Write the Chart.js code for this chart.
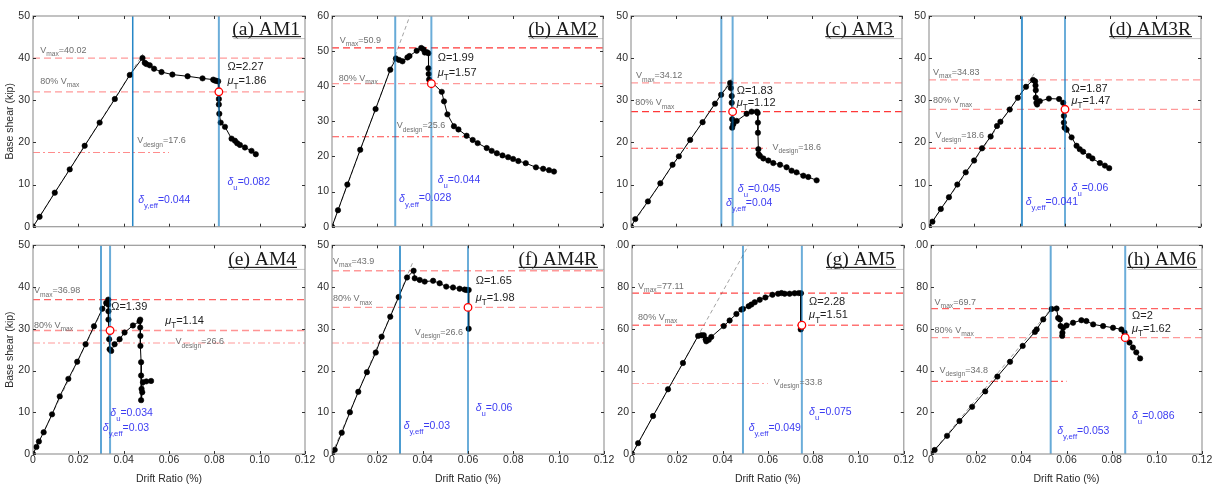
<!DOCTYPE html>
<html>
<head>
<meta charset="utf-8">
<script src="https://cdn.jsdelivr.net/npm/chart.js@4.4.1/dist/chart.umd.min.js"></script>
<style>
  html, body { margin: 0; padding: 0; background: #ffffff; }
  #fig { position: relative; width: 1214px; height: 484px; overflow: hidden; background: #ffffff; }
  #fig canvas { position: absolute; display: block; }
</style>
</head>
<body>
<div id="fig"></div>
<script>
// ---- Pushover curves: drift ratio (%) vs base shear (kip) for each specimen ----
const am1Drift = [0, 0.0029, 0.0096, 0.0162, 0.0228, 0.0294, 0.0361, 0.0427, 0.0483, 0.0493, 0.05, 0.0515, 0.0534, 0.0567, 0.0615, 0.0682, 0.0748, 0.0795, 0.0802, 0.081, 0.0817, 0.082, 0.082, 0.0822, 0.0828, 0.0847, 0.0876, 0.0891, 0.0901, 0.0913, 0.0935, 0.0964, 0.0983];
const am1Shear = [0, 2.35, 8.07, 13.6, 19.2, 24.7, 30.3, 36.0, 40.02, 38.9, 38.6, 38.3, 37.5, 36.7, 36.1, 35.7, 35.2, 34.9, 34.7, 34.6, 34.5, 30.3, 29.0, 26.8, 24.7, 23.7, 20.9, 20.4, 19.8, 19.4, 18.8, 18.0, 17.2];

const am2Drift = [0, 0.00265, 0.0068, 0.0125, 0.0193, 0.0258, 0.0283, 0.0297, 0.0312, 0.0334, 0.0343, 0.0375, 0.0395, 0.0405, 0.0411, 0.042, 0.0427, 0.0427, 0.0428, 0.043, 0.0486, 0.0496, 0.0511, 0.054, 0.056, 0.0596, 0.0623, 0.0645, 0.0685, 0.0707, 0.073, 0.0755, 0.078, 0.0802, 0.0825, 0.0858, 0.0903, 0.0935, 0.0961, 0.0983];
const am2Shear = [0, 4.7, 12.0, 21.9, 33.5, 44.7, 47.9, 47.5, 47.1, 48.2, 48.6, 50.1, 50.9, 50.5, 49.6, 49.7, 49.4, 45.1, 43.5, 41.9, 38.4, 35.7, 32.0, 28.6, 27.7, 25.9, 24.7, 23.8, 22.4, 21.6, 20.9, 20.3, 19.8, 19.3, 18.7, 18.1, 16.9, 16.5, 16.1, 15.7];

const am3Drift = [0, 0.0019, 0.0075, 0.013, 0.0184, 0.0212, 0.0262, 0.0317, 0.0372, 0.0399, 0.0439, 0.0442, 0.0446, 0.0446, 0.0448, 0.0448, 0.0453, 0.0468, 0.0512, 0.0534, 0.0557, 0.0561, 0.0562, 0.0562, 0.0564, 0.0565, 0.0571, 0.0586, 0.0608, 0.063, 0.066, 0.0689, 0.0711, 0.0733, 0.0763, 0.0785, 0.0822];
const am3Shear = [0, 1.8, 6.0, 10.3, 14.7, 16.7, 20.6, 24.8, 29.2, 31.3, 34.12, 32.9, 31.0, 29.4, 25.5, 23.5, 24.3, 25.1, 26.8, 27.3, 27.3, 27.0, 24.7, 22.3, 18.4, 17.2, 16.8, 16.2, 15.7, 15.1, 14.7, 14.1, 13.3, 12.9, 12.1, 11.8, 11.0];

const am3rDrift = [0, 0.0015, 0.0052, 0.0088, 0.0125, 0.0162, 0.0199, 0.0234, 0.0272, 0.03, 0.0315, 0.0356, 0.0392, 0.0428, 0.0459, 0.0468, 0.047, 0.0471, 0.0471, 0.0474, 0.0477, 0.0489, 0.0529, 0.0574, 0.0592, 0.0595, 0.0595, 0.0598, 0.0607, 0.0629, 0.0651, 0.0665, 0.068, 0.0705, 0.0721, 0.0754, 0.0776, 0.0795];
const am3rShear = [0, 1.2, 4.2, 7.0, 10.0, 12.9, 15.7, 18.6, 21.4, 23.9, 24.9, 27.8, 30.6, 33.2, 34.83, 34.5, 33.5, 32.4, 30.6, 29.4, 29.0, 29.8, 30.4, 30.3, 29.4, 26.3, 24.7, 23.5, 23.0, 21.2, 19.2, 18.4, 17.8, 16.8, 16.2, 15.1, 14.5, 13.9];

const am4Drift = [0, 0.0015, 0.0026, 0.0047, 0.0084, 0.0118, 0.0156, 0.0195, 0.0232, 0.0269, 0.0306, 0.0323, 0.0332, 0.0332, 0.0333, 0.0333, 0.0336, 0.0338, 0.0345, 0.036, 0.0382, 0.0404, 0.0441, 0.047, 0.0473, 0.0473, 0.0474, 0.0474, 0.0477, 0.0477, 0.0479, 0.0477, 0.0482, 0.0485, 0.05, 0.0521];
const am4Shear = [0, 1.7, 3.0, 5.2, 9.5, 13.8, 18.0, 22.1, 26.3, 30.6, 34.8, 36.2, 36.98, 35.8, 34.2, 32.2, 27.5, 25.1, 24.7, 26.3, 27.5, 29.1, 30.8, 31.8, 32.2, 30.3, 28.3, 25.9, 22.0, 18.8, 15.6, 12.9, 14.8, 17.2, 17.4, 17.5];

const am4rDrift = [0, 0.0012, 0.0043, 0.0079, 0.0116, 0.0154, 0.0193, 0.0219, 0.0257, 0.0294, 0.0331, 0.036, 0.0365, 0.0387, 0.0409, 0.0446, 0.0475, 0.0504, 0.0534, 0.0563, 0.0585, 0.0593, 0.0603, 0.0603];
const am4rShear = [0, 1.0, 5.1, 10.0, 14.9, 19.6, 24.3, 28.1, 32.9, 37.6, 42.3, 43.9, 42.1, 41.7, 41.3, 41.5, 40.9, 40.1, 39.9, 39.6, 39.4, 39.3, 39.3, 30.0];

const am5Drift = [0, 0.0027, 0.0093, 0.0159, 0.0225, 0.0292, 0.0306, 0.0317, 0.0325, 0.0328, 0.0339, 0.035, 0.0405, 0.0431, 0.0461, 0.0483, 0.049, 0.0515, 0.0527, 0.0542, 0.0564, 0.0589, 0.062, 0.0645, 0.066, 0.0674, 0.0696, 0.0718, 0.0736, 0.0746, 0.0745];
const am5Shear = [0, 5.2, 18.2, 31.0, 43.6, 56.6, 56.9, 56.9, 55.0, 54.0, 54.7, 56.1, 61.3, 64.0, 67.1, 69.2, 69.5, 70.8, 71.6, 72.7, 73.9, 75.0, 76.3, 76.8, 77.11, 76.8, 76.8, 77.0, 77.1, 77.0, 59.7];

const am6Drift = [0, 0.0016, 0.0071, 0.0126, 0.0182, 0.024, 0.0294, 0.035, 0.0406, 0.046, 0.0468, 0.0497, 0.0534, 0.0556, 0.0563, 0.0571, 0.0574, 0.0582, 0.0581, 0.0585, 0.06, 0.0629, 0.0666, 0.0688, 0.0718, 0.0762, 0.0806, 0.0843, 0.0857, 0.0879, 0.0894, 0.0909, 0.0926];
const am6Shear = [0, 1.9, 8.7, 15.8, 22.6, 30.0, 37.1, 44.2, 51.8, 58.5, 59.7, 64.5, 69.5, 69.7, 65.2, 64.5, 61.3, 58.1, 56.6, 60.5, 61.6, 62.9, 64.1, 63.7, 62.1, 61.3, 60.5, 59.7, 58.1, 53.4, 51.0, 48.7, 45.8];

// ---- Per-specimen summary values ----
const panelTitles = ['(a) AM1', '(b) AM2', '(c) AM3', '(d) AM3R', '(e) AM4', '(f) AM4R', '(g) AM5', '(h) AM6'];
const vMax      = [40.02, 50.9, 34.12, 34.83, 36.98, 43.9, 77.11, 69.7];
const vDesign   = [17.6, 25.6, 18.6, 18.6, 26.6, 26.6, 33.8, 34.8];
const deltaYeff = [0.044, 0.028, 0.04, 0.041, 0.03, 0.03, 0.049, 0.053];
const deltaU    = [0.082, 0.044, 0.045, 0.06, 0.034, 0.06, 0.075, 0.086];
const omega     = [2.27, 1.99, 1.83, 1.87, 1.39, 1.65, 2.28, 2];
const muT       = [1.86, 1.57, 1.12, 1.47, 1.14, 1.98, 1.51, 1.62];
const vDesignEnd = [0.06, 0.06, 0.06, 0.06, 0.12, 0.12, 0.06, 0.06];
// initial elastic stiffness line, from the origin to this end point
const stiffDrift = [0.0485, 0.0362, 0.0447, 0.0464, 0.0335, 0.0357, 0.0535, 0.0534];
const stiffShear = [41.0, 63.0, 35.2, 36.3, 37.8, 46.0, 104.0, 70.0];

// ---- Axis ticks ----
const xTickValues = [0, 0.02, 0.04, 0.06, 0.08, 0.1, 0.12];
const yAxisMax  = [50, 60, 50, 50, 50, 50, 100, 100];
const yAxisStep = [10, 10, 10, 10, 10, 10, 20, 20];

const drifts = [am1Drift, am2Drift, am3Drift, am3rDrift, am4Drift, am4rDrift, am5Drift, am6Drift];
const shears = [am1Shear, am2Shear, am3Shear, am3rShear, am4Shear, am4rShear, am5Shear, am6Shear];

// ---- Figure layout (pixels) ----
const SANS = "'Liberation Sans', Arial, sans-serif";
const SERIF = "'Liberation Serif', 'Times New Roman', serif";
const rows = [
  { top: 0,   height: 236, padTop: 16, axisH: 8,  titleDy: 18.5 },
  { top: 236, height: 248, padTop: 7,  axisH: 30, titleDy: 20 }
];
// canvas left, canvas width, left axis width, plot width, title right inset
const cols = [
  [0, 316, 33, 272, 5], [316, 299, 16, 271, 6], [615, 299, 16, 271, 9], [914, 300, 15, 272, 10],
  [0, 316, 33, 272, 9], [316, 299, 16, 272, 7], [616, 298, 16, 272, 9], [915, 299, 16, 271, 6]
];
// line strengths for each panel
const vmaxAlpha = [0.4, 0.78, 0.4, 0.4, 0.62, 0.4, 0.72, 0.62];
const v80Alpha  = [0.4, 0.4, 0.78, 0.4, 0.42, 0.4, 0.55, 0.4];
const vdesAlpha = [0.45, 0.72, 0.72, 0.78, 0.4, 0.4, 0.35, 0.65];
const dyAlpha   = [0.85, 0.6, 0.6, 0.75, 0.85, 0.7, 0.6, 0.6];
// annotation anchors (data units: left edge, vertical middle)
const labelAt = [
  { vmax: [0.0032, 41.8], v80: [0.0032, 34.5], vdes: [0.046, 20.4], om: [0.0858, 37.8], mu: [0.0858, 34.5], du: [0.0858, 10.6], dy: [0.0464, 6.3] },
  { vmax: [0.0034, 53.1], v80: [0.003, 42.3], vdes: [0.0287, 28.7], om: [0.0468, 48.0], mu: [0.0468, 43.7], du: [0.0468, 13.4], dy: [0.0297, 8.0] },
  { vmax: [0.0022, 35.8], v80: [0.0019, 29.4], vdes: [0.0627, 18.8], om: [0.0468, 32.3], mu: [0.0468, 29.4], du: [0.0473, 8.9], dy: [0.0421, 5.5] },
  { vmax: [0.0018, 36.6], v80: [0.0018, 29.9], vdes: [0.0029, 21.6], om: [0.0629, 32.7], mu: [0.0629, 29.8], du: [0.0629, 9.2], dy: [0.0427, 5.9] },
  { vmax: [0.0004, 39.1], v80: [0.0004, 30.8], vdes: [0.0629, 26.9], om: [0.0345, 35.2], mu: [0.0583, 31.8], du: [0.0341, 9.7], dy: [0.0308, 6.2] },
  { vmax: [0.0004, 46.1], v80: [0.0004, 37.2], vdes: [0.0365, 29.1], om: [0.0634, 41.5], mu: [0.0634, 37.5], du: [0.0634, 11.1], dy: [0.0316, 6.6] },
  { vmax: [0.0027, 80.3], v80: [0.0027, 65.6], vdes: [0.0626, 34.4], om: [0.0782, 72.8], mu: [0.0782, 66.4], du: [0.0782, 20.2], dy: [0.0515, 12.3] },
  { vmax: [0.0016, 72.8], v80: [0.0016, 59.2], vdes: [0.0038, 40.0], om: [0.089, 66.0], mu: [0.089, 60.0], du: [0.089, 18.2], dy: [0.0559, 11.1] }
];

const red = a => `rgba(255,0,0,${a})`;
const blue = a => `rgba(0,114,189,${a})`;

// text made of runs, some of them subscripts
function drawRuns(ctx, x, y, runs, size, color, drop) {
  ctx.save();
  ctx.fillStyle = color;
  ctx.textAlign = 'left';
  ctx.textBaseline = 'middle';
  let cx = x;
  for (const r of runs) {
    const fs = r.sub ? size * 0.74 : size;
    ctx.font = `${r.it ? 'italic ' : ''}${fs}px ${SANS}`;
    ctx.fillText(r.t, cx, y + (r.sub ? size * drop : 0));
    cx += ctx.measureText(r.t).width;
  }
  ctx.restore();
}

const annotationPlugin = {
  id: 'pushoverNotes',
  afterDatasetsDraw(chart) {
    const i = chart.options.plugins.pushoverNotes.index;
    const { ctx } = chart;
    const xs = chart.scales.x, ys = chart.scales.y;
    const at = labelAt[i];
    const P = p => [xs.getPixelForValue(p[0]), ys.getPixelForValue(p[1])];
    const gray = '#6f6f6f', ink = '#1e1e1e', bl = '#3d3df2';
    let p;
    p = P(at.vmax); drawRuns(ctx, p[0], p[1], [{ t: 'V' }, { t: 'max', sub: 1 }, { t: '=' + vMax[i] }], 9, gray, 0.45);
    p = P(at.v80);  drawRuns(ctx, p[0], p[1], [{ t: '80% V' }, { t: 'max', sub: 1 }], 9, gray, 0.45);
    p = P(at.vdes); drawRuns(ctx, p[0], p[1], [{ t: 'V' }, { t: 'design', sub: 1 }, { t: '=' + vDesign[i] }], 9, gray, 0.45);
    p = P(at.om);   drawRuns(ctx, p[0], p[1], [{ t: '\u03A9=' + omega[i] }], 11, ink, 0.45);
    p = P(at.mu);   drawRuns(ctx, p[0], p[1], [{ t: '\u03BC', it: 1 }, { t: 'T', sub: 1 }, { t: '=' + muT[i] }], 11, ink, 0.45);
    p = P(at.du);   drawRuns(ctx, p[0], p[1], [{ t: '\u03B4', it: 1 }, { t: 'u', sub: 1 }, { t: '=' + deltaU[i] }], 10.5, bl, 0.55);
    p = P(at.dy);   drawRuns(ctx, p[0], p[1], [{ t: '\u03B4', it: 1 }, { t: 'y,eff', sub: 1 }, { t: '=' + deltaYeff[i] }], 10.5, bl, 0.55);
  }
};

// axes box with inward ticks on all four sides, plus the panel title
const framePlugin = {
  id: 'pushoverFrame',
  afterDraw(chart) {
    const o = chart.options.plugins.pushoverFrame;
    const { ctx, chartArea: a } = chart;
    const xs = chart.scales.x, ys = chart.scales.y;
    ctx.save();
    ctx.strokeStyle = '#9a9a9a';
    ctx.lineWidth = 1.2;
    ctx.strokeRect(a.left, a.top, a.right - a.left, a.bottom - a.top);
    ctx.strokeStyle = '#333333';
    ctx.lineWidth = 1;
    const tl = 3;
    ctx.beginPath();
    for (const t of xs.ticks) {
      const px = Math.round(xs.getPixelForValue(t.value)) + 0.5;
      ctx.moveTo(px, a.bottom); ctx.lineTo(px, a.bottom - tl);
      ctx.moveTo(px, a.top); ctx.lineTo(px, a.top + tl);
    }
    for (const t of ys.ticks) {
      const py = Math.round(ys.getPixelForValue(t.value)) + 0.5;
      ctx.moveTo(a.left, py); ctx.lineTo(a.left + tl, py);
      ctx.moveTo(a.right, py); ctx.lineTo(a.right - tl, py);
    }
    ctx.stroke();

    // title, underlined
    ctx.font = `19.5px ${SERIF}`;
    ctx.fillStyle = '#1a1a1a';
    ctx.textAlign = 'right';
    ctx.textBaseline = 'alphabetic';
    const tx = a.right - o.inset, ty = a.top + o.dy;
    ctx.fillText(o.title, tx, ty);
    const w = ctx.measureText(o.title).width;
    ctx.fillStyle = '#222222';
    ctx.fillRect(tx - w, ty + 1.5, w + 1, 1.2);
    ctx.fillStyle = 'rgba(150,150,150,0.55)';
    ctx.fillRect(tx - w + 1, ty + 3.6, a.right - tx + w - 1, 1);
    ctx.restore();
  }
};

function lineSet(points, color, width, dash, order) {
  return { data: points, showLine: true, borderColor: color, borderWidth: width, borderDash: dash,
           pointRadius: 0, pointHoverRadius: 0, fill: false, order };
}

function buildPanel(i) {
  const row = rows[i < 4 ? 0 : 1];
  const [cLeft, cWidth, axisW, plotW, inset] = cols[i];
  const bottomRow = i >= 4;
  const firstCol = i % 4 === 0;
  const canvas = document.createElement('canvas');
  canvas.width = cWidth;
  canvas.height = row.height;
  canvas.style.left = cLeft + 'px';
  canvas.style.top = row.top + 'px';
  canvas.style.width = cWidth + 'px';
  canvas.style.height = row.height + 'px';
  document.getElementById('fig').appendChild(canvas);

  const ymax = yAxisMax[i];
  const curve = drifts[i].map((d, k) => ({ x: d, y: shears[i][k] }));
  const v80 = 0.8 * vMax[i];
  const heavy = dyAlpha[i] > 0.8;

  const datasets = [
    lineSet([{ x: 0, y: 0 }, { x: stiffDrift[i], y: stiffShear[i] }], '#8c8c8c', 0.8, [4, 3], 6),
    lineSet([{ x: 0, y: vMax[i] }, { x: 0.12, y: vMax[i] }], red(vmaxAlpha[i]), 1.3, [7, 4], 5),
    lineSet([{ x: 0, y: v80 }, { x: 0.12, y: v80 }], red(v80Alpha[i]), 1.3, [7, 4], 5),
    lineSet([{ x: 0, y: vDesign[i] }, { x: vDesignEnd[i], y: vDesign[i] }], red(vdesAlpha[i]), 1.1, [7, 3, 2, 3], 5),
    { data: curve, showLine: true, borderColor: '#000000', borderWidth: 1, pointRadius: 2.7,
      pointBackgroundColor: '#000000', pointBorderColor: '#000000', pointBorderWidth: 0.6, order: 3 },
    lineSet([{ x: deltaYeff[i], y: 0 }, { x: deltaYeff[i], y: ymax }], blue(dyAlpha[i]), heavy ? 1.5 : 2, [], 2),
    lineSet([{ x: deltaU[i], y: 0 }, { x: deltaU[i], y: ymax }], blue(0.58), 2, [], 2),
    { data: [{ x: deltaU[i], y: v80 }], showLine: false, pointRadius: 3.8, pointBackgroundColor: '#ffffff',
      pointBorderColor: '#ff0000', pointBorderWidth: 1.3, order: 0 }
  ];

  new Chart(canvas, {
    type: 'scatter',
    data: { datasets },
    options: {
      responsive: false,
      animation: false,
      devicePixelRatio: 1,
      events: [],
      layout: { autoPadding: false, padding: { left: 0, top: row.padTop, right: cWidth - axisW - plotW, bottom: 0 } },
      plugins: {
        legend: { display: false },
        tooltip: { enabled: false },
        pushoverNotes: { index: i },
        pushoverFrame: { title: panelTitles[i], inset, dy: row.titleDy }
      },
      scales: {
        x: {
          type: 'linear', min: 0, max: 0.12,
          afterBuildTicks: s => { s.ticks = xTickValues.map(v => ({ value: v })); },
          ticks: { display: bottomRow, autoSkip: false, maxRotation: 0, padding: 0, color: '#2b2b2b',
                   font: { family: SANS, size: 10.5 } },
          grid: { display: false, drawTicks: false },
          border: { display: false },
          title: { display: bottomRow, text: 'Drift Ratio (%)', color: '#2b2b2b',
                   font: { family: SANS, size: 10.5, lineHeight: 1.0 }, padding: { top: 0, bottom: 0 } },
          afterFit: s => { s.height = row.axisH; }
        },
        y: {
          type: 'linear', min: 0, max: ymax,
          ticks: { stepSize: yAxisStep[i], autoSkip: false, padding: 3, color: '#2b2b2b',
                   font: { family: SANS, size: 10.5 } },
          grid: { display: false, drawTicks: false },
          border: { display: false },
          title: { display: firstCol, text: 'Base shear (kip)', color: '#2b2b2b',
                   font: { family: SANS, size: 10.5 }, padding: { top: 3.5, bottom: 0 } },
          afterFit: s => { s.width = axisW; }
        }
      }
    },
    plugins: [annotationPlugin, framePlugin]
  });
}

for (let i = 0; i < 8; i++) buildPanel(i);
</script>
</body>
</html>
